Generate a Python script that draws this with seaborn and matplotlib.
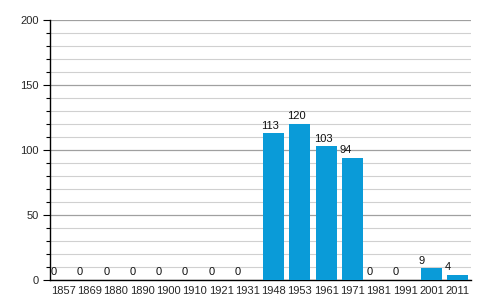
import matplotlib
matplotlib.use("Agg")
import matplotlib.pyplot as plt
import seaborn as sns
import pandas as pd
from matplotlib.ticker import MultipleLocator

years = ["1857", "1869", "1880", "1890", "1900", "1910", "1921", "1931",
         "1948", "1953", "1961", "1971", "1981", "1991", "2001", "2011"]
values = [0, 0, 0, 0, 0, 0, 0, 0, 113, 120, 103, 94, 0, 0, 9, 4]

df = pd.DataFrame({"year": years, "value": values})

sns.set_style("white")
plt.rcParams['font.family'] = ['Arimo', 'Liberation Sans', 'DejaVu Sans']

fig = plt.figure(figsize=(5, 3), dpi=100)
ax = fig.add_axes([0.1, 0.0667, 0.842, 0.8666])

sns.barplot(data=df, x="year", y="value", color="#0a9bd8", width=0.8,
            saturation=1, linewidth=0, ax=ax, zorder=3)

ax.set_ylim(0, 200)
ax.set_xlim(-0.5, len(years) - 0.5)
ax.yaxis.set_major_locator(MultipleLocator(50))
ax.yaxis.set_minor_locator(MultipleLocator(10))
ax.grid(which="major", axis="y", color="#a0a0a0", linewidth=0.9, zorder=0)
ax.grid(which="minor", axis="y", color="#d0d0d0", linewidth=0.8, zorder=0)
ax.set_axisbelow(True)

for s in ["top", "right"]:
    ax.spines[s].set_visible(False)
for s in ["left", "bottom"]:
    ax.spines[s].set_color("black")
    ax.spines[s].set_linewidth(1.0)

ax.tick_params(axis="y", which="major", length=5, width=0.8, color="black",
               labelsize=8, pad=3, left=True)
ax.tick_params(axis="y", which="minor", length=3, width=0.8, color="black", left=True)
ax.tick_params(axis="x", length=0, labelsize=8, pad=4)
ax.set_xlabel("")
ax.set_ylabel("")

for i, v in enumerate(values):
    ax.text(i - 0.4 - 0.08, v + 2, str(v), ha="left", va="bottom", fontsize=8,
            color="#111111", zorder=4)

fig.savefig("out.png", dpi=100)
